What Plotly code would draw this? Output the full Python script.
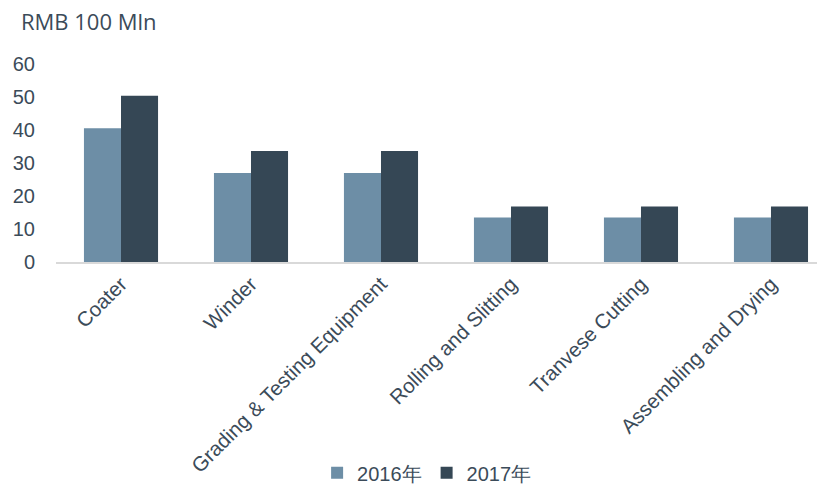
import plotly.graph_objects as go

# Equipment market size by segment, RMB 100 million
categories = [
    "Coater",
    "Winder",
    "Grading & Testing Equipment",
    "Rolling and Slitting",
    "Tranvese Cutting",
    "Assembling and Drying",
]
series_names = ["2016年", "2017年"]
values_2016 = [40.5, 27.0, 27.0, 13.5, 13.5, 13.5]
values_2017 = [50.4, 33.6, 33.6, 16.8, 16.8, 16.8]
y_ticks = [0, 10, 20, 30, 40, 50, 60]
unit_label = "RMB 100 Mln"

TEXT = "#3b4b59"
FONT = "Liberation Sans, Arial, sans-serif"

fig = go.Figure()
fig.add_trace(go.Bar(x=categories, y=values_2016, name=series_names[0],
                     marker=dict(color="#6d8ea6", line=dict(width=0))))
fig.add_trace(go.Bar(x=categories, y=values_2017, name=series_names[1],
                     marker=dict(color="#354755", line=dict(width=0))))

fig.update_layout(
    width=817, height=486,
    margin=dict(l=56, r=0, t=64, b=224, autoexpand=False),
    paper_bgcolor="white", plot_bgcolor="white",
    barmode="group", bargap=0.43, bargroupgap=0,
    font=dict(family=FONT, color=TEXT, size=20),
    showlegend=True,
    legend=dict(orientation="h", x=0.487, xanchor="center", y=-1.065, yanchor="middle",
                font=dict(size=20, color=TEXT), itemwidth=30, traceorder="normal",
                itemsizing="constant"),
    annotations=[dict(text=unit_label, xref="paper", yref="paper", x=-0.049, y=1.215,
                      xanchor="left", yanchor="middle", showarrow=False,
                      font=dict(family="Open Sans, sans-serif", size=22, color=TEXT))],
)
# the category axis runs a little past the right edge of the page
fig.update_xaxes(range=[-0.5, 5.354], showline=True, linecolor="#d9d9d9", linewidth=2,
                 ticks="", tickangle=-45, tickfont=dict(size=20.5, color=TEXT),
                 showgrid=False, automargin=False)
fig.update_yaxes(range=[0, 60], tickvals=y_ticks, showgrid=False, zeroline=False,
                 showline=False, ticks="", ticklabelstandoff=20, automargin=False,
                 tickfont=dict(size=20, color=TEXT))

fig.write_html("out.html")
